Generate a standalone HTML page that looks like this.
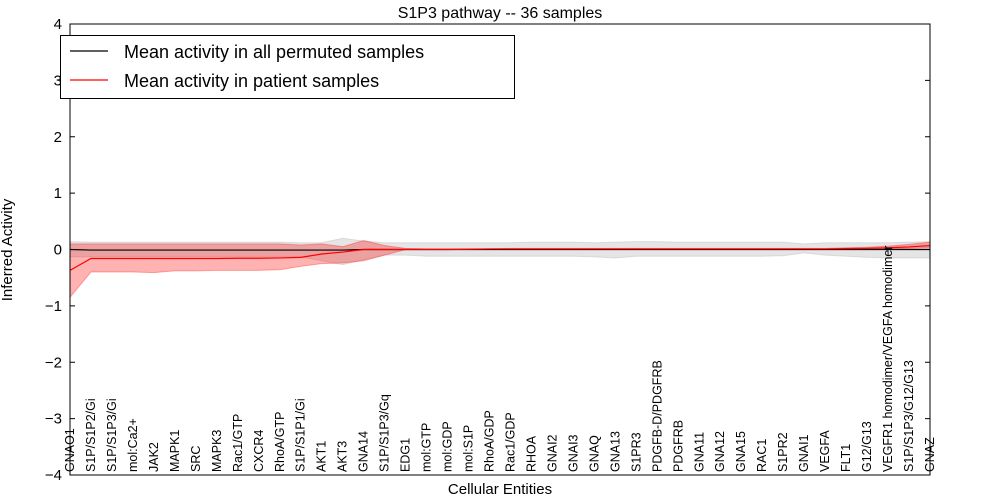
<!DOCTYPE html>
<html><head><meta charset="utf-8"><style>
body{margin:0;background:#fff;font-family:"Liberation Sans","DejaVu Sans",sans-serif}
svg{display:block}
</style></head><body>
<svg id="chart" width="1000" height="500" font-family="Liberation Sans, DejaVu Sans, sans-serif">
<rect x="0" y="0" width="1000" height="500" fill="#fff"/>
<g id="plot"></g>
<rect x="70" y="24" width="860" height="451" fill="none" stroke="#000" stroke-width="1"/>
<text x="500" y="18" text-anchor="middle" font-size="16">S1P3 pathway -- 36 samples</text>
<text x="500" y="494" text-anchor="middle" font-size="15">Cellular Entities</text>
<text x="0" y="0" transform="translate(12,250) rotate(-90)" text-anchor="middle" font-size="15">Inferred Activity</text>
<g id="yticks"></g>
<g id="xlabels"></g>
<g>
<rect x="60.5" y="35.5" width="454" height="63" fill="#fff" stroke="#000"/>
<line x1="70" y1="51" x2="108" y2="51" stroke="#000" stroke-width="1.2"/>
<text x="124" y="58" font-size="18">Mean activity in all permuted samples</text>
<line x1="70" y1="80" x2="108" y2="80" stroke="#f00" stroke-width="1.2"/>
<text x="124" y="87" font-size="18">Mean activity in patient samples</text>
</g>
</svg>
<script>
const categories=["GNAO1","S1P/S1P2/Gi","S1P/S1P3/Gi","mol:Ca2+","JAK2","MAPK1","SRC","MAPK3","Rac1/GTP","CXCR4","RhoA/GTP","S1P/S1P1/Gi","AKT1","AKT3","GNA14","S1P/S1P3/Gq","EDG1","mol:GTP","mol:GDP","mol:S1P","RhoA/GDP","Rac1/GDP","RHOA","GNAI2","GNAI3","GNAQ","GNA13","S1PR3","PDGFB-D/PDGFRB","PDGFRB","GNA11","GNA12","GNA15","RAC1","S1PR2","GNAI1","VEGFA","FLT1","G12/G13","VEGFR1 homodimer/VEGFA homodimer","S1P/S1P3/G12/G13","GNAZ"];
const patientMean=[-0.37,-0.16,-0.16,-0.16,-0.16,-0.16,-0.16,-0.16,-0.155,-0.155,-0.15,-0.14,-0.08,-0.045,0,0,0,0,0,0.005,0.01,0.01,0.01,0.01,0.01,0.01,0.01,0.01,0.01,0.01,0.01,0.01,0.01,0.01,0.01,0.01,0.01,0.015,0.02,0.03,0.045,0.07];
const patientLow=[-0.85,-0.4,-0.4,-0.4,-0.41,-0.38,-0.38,-0.37,-0.37,-0.37,-0.36,-0.3,-0.25,-0.24,-0.2,-0.1,0,0,0,0,0,0,0,0,0,0,0,0,0,0,0,0,0,0,0,0,0,0,0,0.01,0.02,0.03];
const patientHigh=[0.1,0.1,0.1,0.1,0.1,0.1,0.1,0.1,0.1,0.1,0.1,0.08,0.1,0.05,0.16,0.07,0.02,0.01,0.01,0.01,0.01,0.02,0.02,0.02,0.02,0.02,0.02,0.02,0.02,0.02,0.02,0.02,0.02,0.02,0.02,0.02,0.02,0.03,0.04,0.06,0.09,0.13];
const permMean=[0,-0.01,-0.01,-0.01,-0.01,-0.01,-0.01,-0.01,-0.01,-0.01,-0.01,-0.01,-0.01,-0.01,0,0,0,0,0,0,0,0,0,0,0,0,0,0,0,0,0,0,0,0,0,0,0,0,0,0,0,0];
const permLow=[-0.13,-0.13,-0.13,-0.13,-0.13,-0.13,-0.13,-0.13,-0.13,-0.13,-0.13,-0.13,-0.2,-0.27,-0.18,-0.1,-0.1,-0.12,-0.12,-0.12,-0.12,-0.12,-0.12,-0.12,-0.12,-0.13,-0.15,-0.12,-0.12,-0.12,-0.12,-0.12,-0.12,-0.12,-0.11,-0.06,-0.1,-0.12,-0.14,-0.15,-0.15,-0.15];
const permHigh=[0.14,0.13,0.13,0.13,0.13,0.13,0.13,0.13,0.13,0.13,0.13,0.12,0.12,0.2,0.15,0.12,0.12,0.12,0.12,0.12,0.12,0.12,0.13,0.13,0.13,0.12,0.13,0.14,0.14,0.13,0.13,0.13,0.13,0.13,0.13,0.1,0.12,0.12,0.12,0.12,0.13,0.14];
const yTicks=[-4,-3,-2,-1,0,1,2,3,4];
const NS="http://www.w3.org/2000/svg";
const X0=70,X1=930,Y0=24,Y1=475;
function xs(i){return X0+(X1-X0)*i/(categories.length-1);}
function ys(v){return Y1-(v+4)/8*(Y1-Y0);}
const plot=document.getElementById('plot');
function band(lo,hi,fill,op,name){
  let d='M'+lo.map((v,i)=>xs(i)+','+ys(v)).join('L');
  for(let i=hi.length-1;i>=0;i--)d+='L'+xs(i)+','+ys(hi[i]);
  const p=document.createElementNS(NS,'path');p.setAttribute('d',d+'Z');
  p.setAttribute('fill',fill);p.setAttribute('fill-opacity',op);p.setAttribute('stroke',fill);p.setAttribute('stroke-opacity',op);
  
  
  plot.appendChild(p);
}
function line(vals,col,name){
  const p=document.createElementNS(NS,'polyline');
  p.setAttribute('points',vals.map((v,i)=>xs(i)+','+ys(v)).join(' '));
  p.setAttribute('fill','none');p.setAttribute('stroke',col);p.setAttribute('stroke-width','1.2');
  
  
  plot.appendChild(p);
}
band(permLow,permHigh,'#999','0.25','permuted-band');
band(patientLow,patientHigh,'#f00','0.3','patient-band');
line(permMean,'#000','permuted-mean-line');
line(patientMean,'#f00','patient-mean-line');
const yt=document.getElementById('yticks');
yTicks.forEach(v=>{
  const y=ys(v);
  const t=document.createElementNS(NS,'text');
  t.setAttribute('x',62);t.setAttribute('y',y+5);t.setAttribute('text-anchor','end');t.setAttribute('font-size','15');
  t.textContent=(v<0?'\u2212'+(-v):v);
  
  
  yt.appendChild(t);
  [[X0,X0+5],[X1-5,X1]].forEach(([a,b])=>{const l=document.createElementNS(NS,'line');l.setAttribute('x1',a);l.setAttribute('x2',b);l.setAttribute('y1',y);l.setAttribute('y2',y);l.setAttribute('stroke','#000');yt.appendChild(l);});
});
const xl=document.getElementById('xlabels');
categories.forEach((c,i)=>{
  const x=xs(i);
  const t=document.createElementNS(NS,'text');
  t.setAttribute('transform','translate('+(x+4)+',472) rotate(-90)');
  t.setAttribute('font-size','12.5');
  t.textContent=c;
  
  
  xl.appendChild(t);
});
</script>
</body></html>
